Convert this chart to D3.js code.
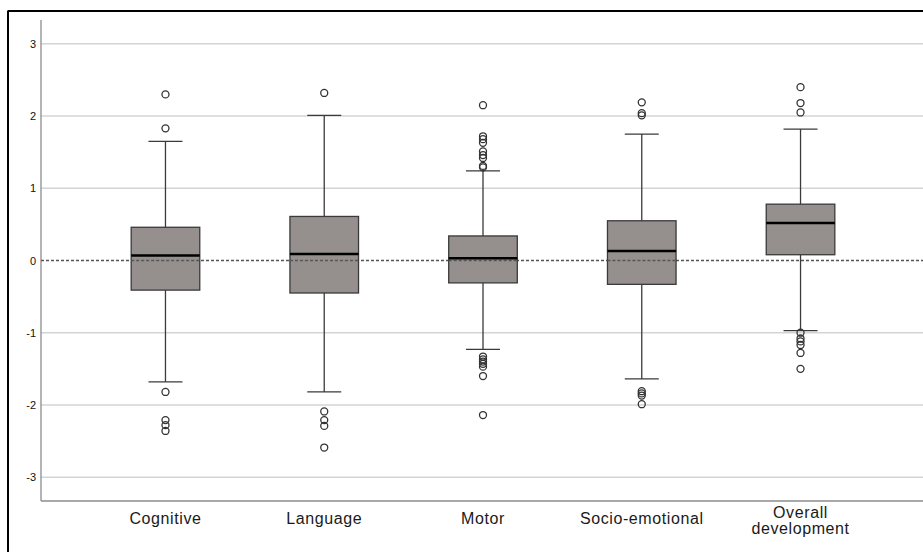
<!DOCTYPE html>
<html>
<head>
<meta charset="utf-8">
<script src="https://cdn.jsdelivr.net/npm/d3@7"></script>
<style>
  html, body { margin: 0; padding: 0; background: #fff; }
  svg { display: block; }
</style>
</head>
<body>
<svg id="chart" width="923" height="552"></svg>
<script>
// ---- data ----
const categories = ["Cognitive", "Language", "Motor", "Socio-emotional", "Overall\ndevelopment"];
const q1Values      = [-0.41, -0.45, -0.31, -0.33, 0.08];
const medianValues  = [0.07, 0.09, 0.03, 0.13, 0.52];
const q3Values      = [0.46, 0.61, 0.34, 0.55, 0.78];
const whiskerLow    = [-1.68, -1.82, -1.23, -1.64, -0.97];
const whiskerHigh   = [1.65, 2.01, 1.24, 1.75, 1.82];
const outlierValues = [
  [2.30, 1.83, -1.82, -2.21, -2.28, -2.36],
  [2.32, -2.09, -2.21, -2.29, -2.59],
  [2.15, 1.72, 1.68, 1.63, 1.51, 1.46, 1.42, 1.31, 1.29, -1.33, -1.37, -1.40, -1.43, -1.47, -1.60, -2.14],
  [2.19, 2.04, 2.01, -1.81, -1.84, -1.87, -1.99],
  [2.40, 2.18, 2.05, -1.00, -1.08, -1.12, -1.17, -1.28, -1.50]
];
const yTicks = [-3, -2, -1, 0, 1, 2, 3];
const yTickLabels = ["-3", "-2", "-1", "0", "1", "2", "3"];

// ---- layout ----
const svg = d3.select("#chart");
const plotLeft = 41, plotRight = 925, plotTop = 20, plotBottom = 501;

const y = d3.scaleLinear().domain([-3.33, 3.33]).range([plotBottom, plotTop]);
const x = d3.scaleBand().domain(categories).range([plotLeft, plotRight]).paddingInner(0).paddingOuter(0.284);
const boxW = x.bandwidth() * 0.432;
const capW = 34;

// frame
svg.append("line").attr("x1", 8).attr("x2", 8).attr("y1", 10.5).attr("y2", 552)
  .attr("stroke", "#000").attr("stroke-width", 2);
svg.append("line").attr("x1", 8).attr("x2", 923).attr("y1", 11).attr("y2", 11)
  .attr("stroke", "#000").attr("stroke-width", 2);

// gridlines
svg.append("g").selectAll("line").data(yTicks.filter(d => d !== 0)).join("line")
  .attr("x1", plotLeft).attr("x2", 923)
  .attr("y1", d => y(d)).attr("y2", d => y(d))
  .attr("stroke", "#d4d4d4").attr("stroke-width", 1.5);

// y axis
const yAxis = svg.append("g").attr("transform", `translate(${plotLeft},0)`)
  .call(d3.axisLeft(y).tickValues(yTicks).tickSize(0).tickPadding(5)
    .tickFormat((d, i) => yTickLabels[i]));
yAxis.select(".domain").remove();
yAxis.selectAll("text").attr("font-family", "Liberation Sans, Arial, sans-serif")
  .attr("font-size", 11).attr("fill", "#111");
svg.append("line").attr("x1", plotLeft).attr("x2", plotLeft).attr("y1", plotTop).attr("y2", plotBottom)
  .attr("stroke", "#8c8c8c").attr("stroke-width", 1.3);

// x axis line
svg.append("line").attr("x1", plotLeft).attr("x2", 923).attr("y1", plotBottom).attr("y2", plotBottom)
  .attr("stroke", "#8c8c8c").attr("stroke-width", 1.3);

// zero reference line
svg.append("line").attr("x1", plotLeft).attr("x2", 923).attr("y1", y(0)).attr("y2", y(0))
  .attr("stroke", "#555").attr("stroke-width", 1.3).attr("stroke-dasharray", "3,2");

// x labels
const xl = svg.append("g").selectAll("text").data(categories).join("text")
  .attr("text-anchor", "middle")
  .attr("font-family", "Liberation Sans, Arial, sans-serif")
  .attr("font-size", 16).attr("letter-spacing", 0.6).attr("fill", "#1a1a1a");
xl.each(function(d) {
  const lines = d.split("\n");
  const el = d3.select(this);
  const y0 = lines.length > 1 ? 518 : 524;
  lines.forEach((ln, i) => {
    el.append("tspan").attr("x", x(d) + x.bandwidth() / 2).attr("y", y0 + i * 16).text(ln);
  });
});

// boxes
const boxes = categories.map((c, i) => ({
  c, q1: q1Values[i], med: medianValues[i], q3: q3Values[i],
  lo: whiskerLow[i], hi: whiskerHigh[i], out: outlierValues[i]
}));
const g = svg.append("g").selectAll("g").data(boxes).join("g")
  .attr("transform", d => `translate(${x(d.c) + x.bandwidth() / 2},0)`);

// whiskers
g.append("line").attr("x1", 0).attr("x2", 0).attr("y1", d => y(d.q3)).attr("y2", d => y(d.hi))
  .attr("stroke", "#3a3a3a").attr("stroke-width", 1.3);
g.append("line").attr("x1", 0).attr("x2", 0).attr("y1", d => y(d.q1)).attr("y2", d => y(d.lo))
  .attr("stroke", "#3a3a3a").attr("stroke-width", 1.3);
g.append("line").attr("x1", -capW / 2).attr("x2", capW / 2).attr("y1", d => y(d.hi)).attr("y2", d => y(d.hi))
  .attr("stroke", "#3a3a3a").attr("stroke-width", 1.3);
g.append("line").attr("x1", -capW / 2).attr("x2", capW / 2).attr("y1", d => y(d.lo)).attr("y2", d => y(d.lo))
  .attr("stroke", "#3a3a3a").attr("stroke-width", 1.3);

// box
g.append("rect").attr("x", -boxW / 2).attr("width", boxW)
  .attr("y", d => y(d.q3)).attr("height", d => y(d.q1) - y(d.q3))
  .attr("fill", "#95908e").attr("stroke", "#3a3a3a").attr("stroke-width", 1.3);

// zero line visible over boxes
g.append("line").attr("x1", -boxW / 2).attr("x2", boxW / 2)
  .attr("y1", y(0)).attr("y2", y(0))
  .attr("stroke", "#555").attr("stroke-width", 1.3).attr("stroke-dasharray", "3,2")
  .attr("display", d => (d.q1 < 0 && d.q3 > 0) ? null : "none");

// median
g.append("line").attr("x1", -boxW / 2).attr("x2", boxW / 2)
  .attr("y1", d => y(d.med)).attr("y2", d => y(d.med))
  .attr("stroke", "#000").attr("stroke-width", 2.5);

// outliers
g.selectAll("circle").data(d => d.out).join("circle")
  .attr("cx", 0).attr("cy", d => y(d)).attr("r", 3.5)
  .attr("fill", "none").attr("stroke", "#333").attr("stroke-width", 1.3);
</script>
</body>
</html>
